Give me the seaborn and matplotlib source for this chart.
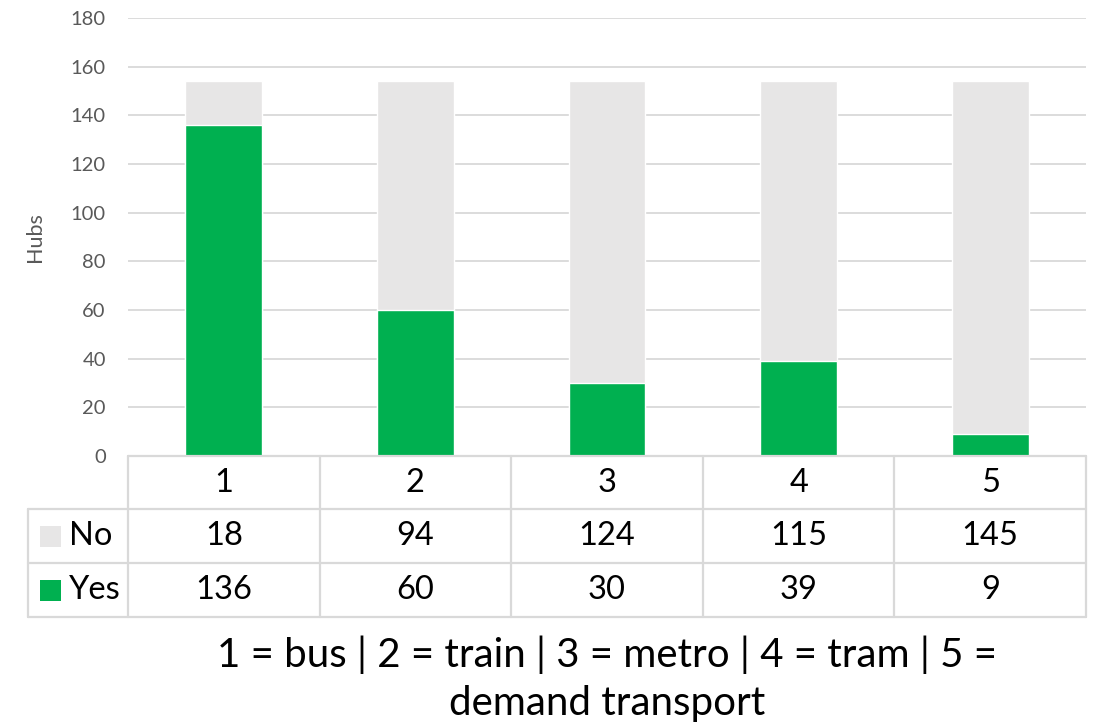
import matplotlib
matplotlib.use("Agg")
import matplotlib.pyplot as plt
import seaborn as sns
import pandas as pd

# Hub counts per transport mode
categories = ["1", "2", "3", "4", "5"]
no_values = [18, 94, 124, 115, 145]
yes_values = [136, 60, 30, 39, 9]
series_names = ["No", "Yes"]
y_ticks = [0, 20, 40, 60, 80, 100, 120, 140, 160, 180]
caption_lines = ["1 = bus | 2 = train | 3 = metro | 4 = tram | 5 =", "demand transport"]
y_label = "Hubs"

GREEN = "#00B050"
GRAY = "#E7E6E6"
GRID = "#D9D9D9"
TICK = "#595959"

sns.set_theme(style="white")
plt.rcParams["font.family"] = ["Lato", "DejaVu Sans"]

W, H = 1094, 724
fig = plt.figure(figsize=(W / 100, H / 100), dpi=100)


def fx(x):
    return x / W


def fy(y):
    return 1 - y / H


ax_left, ax_right, ax_top, ax_bottom = 128, 1086, 18, 456
ax = fig.add_axes([fx(ax_left), fy(ax_bottom), fx(ax_right - ax_left), (ax_bottom - ax_top) / H])

df = pd.DataFrame({"cat": categories, "No": no_values, "Yes": yes_values})
df["total"] = df["No"] + df["Yes"]

# Stacked columns: full height in gray, green "Yes" part drawn on top of it
sns.barplot(data=df, x="cat", y="total", color=GRAY, width=0.4, saturation=1, ax=ax, zorder=2)
sns.barplot(data=df, x="cat", y="Yes", color=GREEN, width=0.4, saturation=1, ax=ax, zorder=3)

ax.set_ylim(0, 180)
ax.set_xlim(-0.5, len(categories) - 0.5)
ax.set_yticks(y_ticks)
ax.set_yticklabels([str(t) for t in y_ticks], color=TICK, fontsize=14.5)
ax.tick_params(axis="y", length=0, pad=16)
ax.set_xticks([])
ax.set_xlabel("")
ax.set_ylabel("")
for t in y_ticks[1:]:
    ax.axhline(t, color=GRID, lw=1.3, zorder=1)
for s in ax.spines.values():
    s.set_visible(False)

fig.text(fx(35), fy(237), y_label, rotation=90, ha="center", va="center",
         color=TICK, fontsize=15.5)

# Data table below the plot area
row_y = [456, 509, 563, 617]
col_x = [ax_left + i * (ax_right - ax_left) / len(categories) for i in range(len(categories) + 1)]
legend_left = 28
lw = 1.6


def hline(x0, x1, y):
    fig.add_artist(plt.Line2D([fx(x0), fx(x1)], [fy(y), fy(y)], color=GRID, lw=lw))


def vline(x, y0, y1):
    fig.add_artist(plt.Line2D([fx(x), fx(x)], [fy(y0), fy(y1)], color=GRID, lw=lw))


hline(ax_left, ax_right, row_y[0])
for y in row_y[1:]:
    hline(legend_left, ax_right, y)
for x in col_x:
    vline(x, row_y[0], row_y[3])
vline(legend_left, row_y[1], row_y[3])

fs_table = 23.5
for i, c in enumerate(categories):
    cx = (col_x[i] + col_x[i + 1]) / 2
    fig.text(fx(cx), fy((row_y[0] + row_y[1]) / 2), c, ha="center", va="center",
             fontsize=fs_table, color="black")
    fig.text(fx(cx), fy((row_y[1] + row_y[2]) / 2), str(no_values[i]), ha="center",
             va="center", fontsize=fs_table, color="black")
    fig.text(fx(cx), fy((row_y[2] + row_y[3]) / 2), str(yes_values[i]), ha="center",
             va="center", fontsize=fs_table, color="black")

# Legend keys inside the table
for r, (name, col) in enumerate(zip(series_names, [GRAY, GREEN])):
    cy = (row_y[1 + r] + row_y[2 + r]) / 2
    fig.add_artist(plt.Rectangle((fx(40), fy(cy + 10.5)), fx(21), 21 / H,
                                 facecolor=col, edgecolor="none"))
    fig.text(fx(69), fy(cy), name, ha="left", va="center", fontsize=fs_table, color="black")

# Caption
fig.text(fx(607), fy(655), caption_lines[0], ha="center", va="center", fontsize=29, color="black")
fig.text(fx(607), fy(703), caption_lines[1], ha="center", va="center", fontsize=29, color="black")

fig.savefig("out.png", dpi=100, facecolor="white")
